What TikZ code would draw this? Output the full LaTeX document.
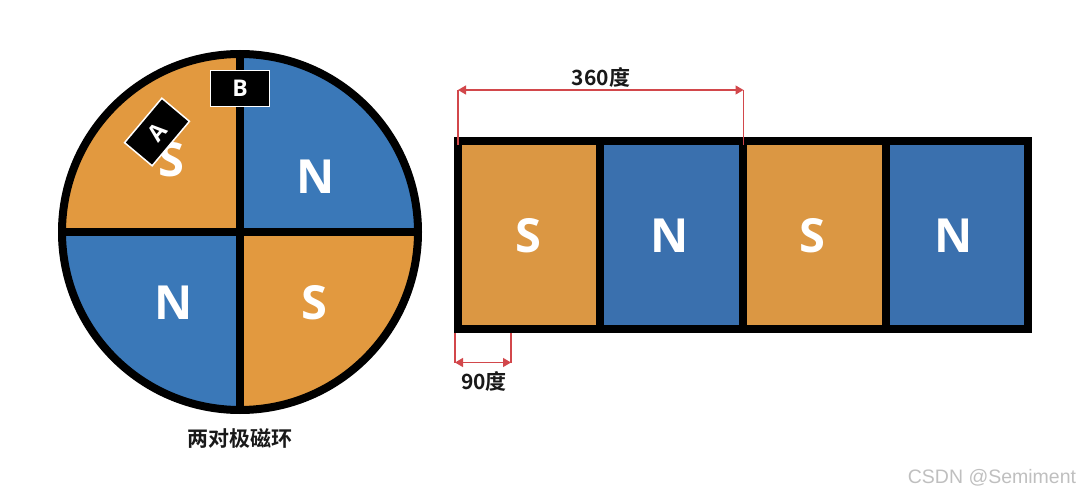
\documentclass[tikz,border=0pt]{standalone}
\usepackage{fontspec}
\setmainfont{Noto Sans CJK SC}[BoldFont={* Bold}]
\newfontfamily\wm{Liberation Sans}
\newfontfamily\polefont{Open Sans}[BoldFont={* Bold}]
\usetikzlibrary{arrows.meta}
\definecolor{orng}{HTML}{E2993F}
\definecolor{blu}{HTML}{3A78B8}
\definecolor{orng2}{HTML}{DB9743}
\definecolor{blu2}{HTML}{3A70AE}
\definecolor{dimred}{HTML}{D2474B}
\tikzset{
  x=1pt,y=-1pt,
  pole/.style={text=white,font=\polefont\fontsize{47}{47}\selectfont\bfseries,inner sep=0pt},
  sensor/.style={draw=white,fill=black,line width=1.5pt,minimum height=36pt,inner sep=0pt,text=white,font=\polefont\fontsize{23}{23}\selectfont\bfseries},
  dimline/.style={draw=dimred,line width=1.3pt},
  dimarrow/.style={draw=dimred,line width=1.3pt,{Triangle[length=8pt,width=9pt]}-{Triangle[length=8pt,width=9pt]}},
  lab/.style={text=black!90,font=\fontsize{21}{21}\selectfont\bfseries,inner sep=0pt},
  cell/.style={line width=8pt,draw=black},
}
\begin{document}
\begin{tikzpicture}
\useasboundingbox (0,0) rectangle (1080,495);
% ring
\coordinate (c) at (240,232);
\coordinate (ct) at (240,54); \coordinate (cb) at (240,410);
\coordinate (cl) at (62,232); \coordinate (cr) at (418,232);
\fill[orng] (c) -- (cl) arc[start angle=180,end angle=270,radius=178] -- cycle;
\fill[blu] (c) -- (ct) arc[start angle=270,end angle=360,radius=178] -- cycle;
\fill[blu] (c) -- (cl) arc[start angle=180,end angle=90,radius=178] -- cycle;
\fill[orng] (c) -- (cr) arc[start angle=0,end angle=90,radius=178] -- cycle;
\draw[cell] (c) circle[radius=178];
\draw[cell] (ct) -- (cb);
\draw[cell] (cl) -- (cr);
\node[pole] (p1) at (171,160) {S};
\node[pole] (p2) at (316,177) {N};
\node[pole] (p3) at (174,303) {N};
\node[pole] (p4) at (314,303) {S};
\node[sensor,minimum width=58pt,rotate=50] (sa) at (157,132) {A};
\node[sensor,minimum width=59pt] (sb) at (240,88.5) {B};
\node[lab] (cap) at (240,439) {两对极磁环};
% strip
\fill[orng2] (458,141) rectangle (600,329);
\fill[blu2] (600,141) rectangle (743,329);
\fill[orng2] (743,141) rectangle (886,329);
\fill[blu2] (886,141) rectangle (1028,329);
\draw[cell] (458,141) rectangle (1028,329);
\coordinate (t1) at (600,141); \coordinate (b1) at (600,329);
\coordinate (t2) at (743,141); \coordinate (b2) at (743,329);
\coordinate (t3) at (886,141); \coordinate (b3) at (886,329);
\draw[cell] (t1) -- (b1);
\draw[cell] (t2) -- (b2);
\draw[cell] (t3) -- (b3);
\node[pole] (r1) at (528,236) {S};
\node[pole] (r2) at (670,236) {N};
\node[pole] (r3) at (812,236) {S};
\node[pole] (r4) at (954,236) {N};
% dimensions
\coordinate (d1a) at (458,90); \coordinate (d1b) at (743.5,90);
\coordinate (d1c) at (458,145); \coordinate (d1d) at (743.5,145);
\draw[dimline] (d1a) -- (d1c);
\draw[dimline] (d1b) -- (d1d);
\draw[dimarrow] (d1a) -- (d1b);
\node[lab] (l360) at (601,77) {360度};
\coordinate (d2a) at (455,362.5); \coordinate (d2b) at (511,362.5);
\coordinate (d2c) at (455,333); \coordinate (d2d) at (511,333);
\draw[dimline] (d2a) -- (d2c);
\draw[dimline] (d2b) -- (d2d);
\draw[dimarrow] (d2a) -- (d2b);
\node[lab] (l90) at (484,381) {90度};
\node[text=black!25,font=\wm\fontsize{19.5}{19.5}\selectfont,inner sep=0pt] (wm) at (992,478) {CSDN @Semiment};
\end{tikzpicture}
\end{document}
